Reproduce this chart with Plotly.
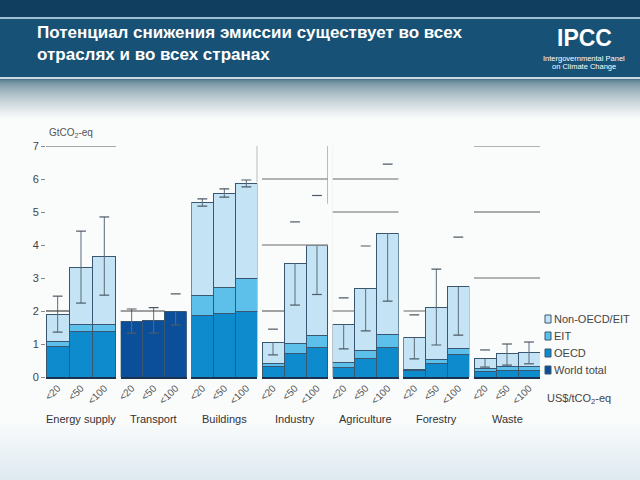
import plotly.graph_objects as go
from plotly.subplots import make_subplots

# ---------------- data ----------------
sectors = ["Energy supply", "Transport", "Buildings", "Industry", "Agriculture", "Forestry", "Waste"]
prices = ["<20", "<50", "<100"]

# segment values (GtCO2-eq) per sector, per carbon price
oecd = [[0.93, 1.37, 1.37], None, [1.85, 1.92, 2.00], [0.33, 0.70, 0.88],
        [0.30, 0.55, 0.88], [0.20, 0.42, 0.67], [0.18, 0.20, 0.20]]
eit = [[0.15, 0.23, 0.23], None, [0.63, 0.80, 0.97], [0.09, 0.33, 0.39],
       [0.15, 0.24, 0.42], [0.03, 0.10, 0.18], [0.09, 0.12, 0.12]]
non_oecd_eit = [[0.82, 1.73, 2.06], None, [2.82, 2.85, 2.90], [0.64, 2.42, 2.73],
                [1.15, 1.88, 3.06], [0.97, 1.60, 1.88], [0.28, 0.38, 0.41]]
world_total = [None, [1.67, 1.72, 1.97], None, None, None, None, None]

err_low = [[1.36, 2.24, 2.48], [1.33, 1.33, 1.58], [5.18, 5.45, 5.76], [0.67, 2.18, 2.50],
           [0.85, 1.40, 2.30], [0.55, 0.97, 1.27], [0.30, 0.36, 0.40]]
err_high = [[2.45, 4.42, 4.85], [2.06, 2.10, 2.52], [5.40, 5.70, 5.97], [1.45, 4.70, 5.50],
            [2.40, 3.97, 6.45], [1.88, 3.27, 4.24], [0.82, 1.00, 1.06]]
# whether the upper whisker line is visible above the bar
upper_line_visible = [[1, 1, 1], [1, 1, 0], [1, 1, 1], [0, 0, 0], [0, 0, 0], [0, 1, 0], [0, 1, 1]]

y_ticks = [0, 1, 2, 3, 4, 5, 6, 7]

series = [
    ("World total", world_total, "#0b4f9a"),
    ("OECD", oecd, "#0d8bcc"),
    ("EIT", eit, "#5cc0ea"),
    ("Non-OECD/EIT", non_oecd_eit, "#c4e4f5"),
]

# ---------------- geometry helpers ----------------
W, H = 640, 480
L, R, T, B = 46, 540, 146, 377
def px(x):
    return (x - L) / (R - L)
def py(y):
    return (B - y) / (B - T)

FONT = "Liberation Sans, Arial, sans-serif"

fig = make_subplots(rows=1, cols=7, shared_yaxes=True,
                    column_widths=[70, 66, 66, 66, 66, 66, 66],
                    horizontal_spacing=0.0095)

# bars
for name, vals, col in series:
    for si, sec in enumerate(sectors):
        v = vals[si]
        if v is None:
            continue
        fig.add_trace(go.Bar(x=prices, y=v, name=name, legendgroup=name,
                             showlegend=False,
                             marker=dict(color=col, line=dict(color="#3b5670", width=1))),
                      row=1, col=si + 1)

def total(si, i):
    s = 0
    for _, vals, _ in series:
        if vals[si] is not None:
            s += vals[si][i]
    return s

# error whiskers
for si, sec in enumerate(sectors):
    lx, ly, cx, cy = [], [], [], []
    for i, p in enumerate(prices):
        top = err_high[si][i] if upper_line_visible[si][i] else total(si, i)
        lx += [p, p, None]
        ly += [err_low[si][i], top, None]
        cx += [p, p]
        cy += [err_low[si][i], err_high[si][i]]
    fig.add_trace(go.Scatter(x=lx, y=ly, mode="lines", showlegend=False, hoverinfo="skip",
                             line=dict(color="#5b6b78", width=1)), row=1, col=si + 1)
    fig.add_trace(go.Scatter(x=cx, y=cy, mode="markers", showlegend=False, hoverinfo="skip",
                             marker=dict(symbol="line-ew-open", size=7, color="#4c5a66",
                                         line=dict(color="#4c5a66", width=1.2))),
                  row=1, col=si + 1)

fig.update_layout(barmode="stack", bargap=0)
fig.update_xaxes(showline=True, linecolor="#1c3350", linewidth=1.5, ticks="",
                 tickangle=-45, tickfont=dict(family=FONT, size=10, color="#555"),
                 showgrid=False, zeroline=False, range=[-0.5, 2.5], fixedrange=True)
fig.update_yaxes(range=[0, 7], showgrid=False, zeroline=False, showline=False, fixedrange=True)
fig.update_yaxes(tickvals=y_ticks, ticks="outside", ticklen=4, tickcolor="#888",
                 tickfont=dict(family=FONT, size=11, color="#444"), row=1, col=1)

shapes = []
def band(y0, y1, color, x0=0, x1=W):
    shapes.append(dict(type="rect", xref="paper", yref="paper", layer="below",
                       x0=px(x0), x1=px(x1), y0=py(y1), y1=py(y0),
                       fillcolor=color, line=dict(width=0)))

def mix(c0, c1, t):
    return "rgb(%d,%d,%d)" % tuple(round(a + (b - a) * t) for a, b in zip(c0, c1))

# header
band(0, 17, "#103e5e")
band(17, 19, "#9dbfd1")
band(19, 77, "#175176")
band(77, 79, "#cadbe5")
# smooth shadow below banner
top_c, bg_c = (78, 118, 136), (250, 251, 251)
for k in range(40):
    t = (k / 39) ** 0.6
    band(79 + k, 80 + k, mix(top_c, bg_c, t))
# light blue fade at the bottom
bot_c = (222, 234, 241)
for k in range(30):
    t = k / 29
    band(420 + 2 * k, 422 + 2 * k, mix(bg_c, bot_c, t))

# grey frame remnants from the original figure
def seg(ax, x0, x1, y0, y1, color="#9a9a9a", w=1.3):
    shapes.append(dict(type="line", xref=ax, yref="y", x0=x0, x1=x1, y0=y0, y1=y1,
                       line=dict(color=color, width=w), layer="above"))
seg("x", -0.63, 2.5, 7, 7, "#555", 1.2)
seg("x", -0.55, 0.5, 2, 2, "#444", 1.2)
seg("x2", -0.55, 1.5, 2, 2, "#444", 1.2)
seg("x3", -0.68, -0.68, 0, 5.2)
seg("x3", 2.5, 2.5, 5.9, 7)
seg("x4", -0.55, -0.55, 0, 7)
seg("x4", -0.55, 2.5, 6, 6)
seg("x4", -0.55, 2.5, 4, 4)
seg("x4", -0.55, 0.5, 2, 2, "#666", 1.2)
seg("x4", 2.5, 2.5, 5.25, 7)
seg("x5", -0.55, -0.55, 0, 7)
seg("x5", -0.55, 2.5, 6, 6)
seg("x5", -0.55, 2.5, 5, 5)
seg("x5", -0.55, 0.5, 2, 2, "#666", 1.2)
seg("x5", 2.72, 2.72, 5.3, 7)
seg("x6", -0.5, 0.5, 2, 2, "#666", 1.2)
seg("x7", -0.55, 2.5, 7, 7)
seg("x7", -0.55, 2.5, 5, 5, "#aaa", 2)
seg("x7", -0.55, 2.5, 3, 3)
seg("x7", -0.62, -0.62, 5.2, 7)

annotations = []
annotations.append(dict(text="<b>Потенциал снижения эмиссии существует во всех<br>отраслях и во всех странах</b>",
                         xref="paper", yref="paper", x=px(35), y=py(21), xanchor="left", yanchor="top",
                         align="left", showarrow=False,
                         font=dict(family=FONT, size=17, color="white")))
annotations.append(dict(text="<b>IPCC</b>", xref="paper", yref="paper", x=px(584), y=py(38),
                         xanchor="center", yanchor="middle", showarrow=False,
                         font=dict(family=FONT, size=23, color="white")))
annotations.append(dict(text="Intergovernmental Panel", xref="paper", yref="paper", x=px(584), y=py(58),
                         xanchor="center", yanchor="middle", showarrow=False,
                         font=dict(family=FONT, size=7.5, color="white")))
annotations.append(dict(text="on Climate Change", xref="paper", yref="paper", x=px(584), y=py(67),
                         xanchor="center", yanchor="middle", showarrow=False,
                         font=dict(family=FONT, size=7.5, color="white")))
annotations.append(dict(text="GtCO<sub>2</sub>-eq", xref="paper", yref="paper", x=px(47), y=py(133),
                         xanchor="left", yanchor="middle", showarrow=False,
                         font=dict(family=FONT, size=10, color="#555")))
for si, sec in enumerate(sectors):
    xr = "x domain" if si == 0 else f"x{si + 1} domain"
    annotations.append(dict(text=sec, xref=xr, yref="paper", x=0.5, y=py(419),
                             xanchor="center", yanchor="middle", showarrow=False,
                             font=dict(family=FONT, size=11, color="#333")))
legend_rows = [("Non-OECD/EIT", "#c4e4f5", 319), ("EIT", "#5cc0ea", 336),
               ("OECD", "#0d8bcc", 353), ("World total", "#0b4f9a", 370)]
for name, col, yy in legend_rows:
    shapes.append(dict(type="rect", xref="paper", yref="paper",
                       x0=px(545), x1=px(551), y0=py(yy + 4), y1=py(yy - 4),
                       fillcolor=col, line=dict(color="#3b5670", width=1)))
    annotations.append(dict(text=name, xref="paper", yref="paper", x=px(552), y=py(yy),
                             xanchor="left", yanchor="middle", showarrow=False,
                             font=dict(family=FONT, size=11, color="#444")))
annotations.append(dict(text="US$/tCO<sub>2</sub>-eq", xref="paper", yref="paper", x=px(545), y=py(399),
                         xanchor="left", yanchor="middle", showarrow=False,
                         font=dict(family=FONT, size=11, color="#444")))

fig.update_layout(width=W, height=H, margin=dict(l=L, r=W - R, t=T, b=H - B),
                  paper_bgcolor="#fafbfb", plot_bgcolor="rgba(0,0,0,0)",
                  showlegend=False, shapes=shapes, annotations=annotations,
                  font=dict(family=FONT), hovermode=False)

fig.write_html("out.html", config={"displayModeBar": False, "staticPlot": True},
               post_script="document.body.style.margin='0px';document.body.style.overflow='hidden';")
